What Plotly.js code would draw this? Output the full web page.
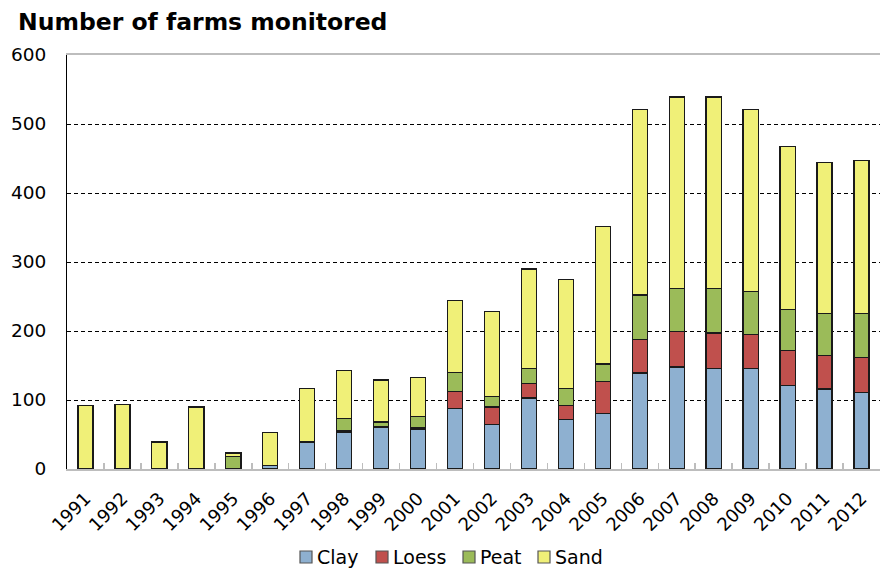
<!DOCTYPE html>
<html>
<head>
<meta charset="utf-8">
<script src="https://cdn.plot.ly/plotly-3.0.1.min.js"></script>
<style>html,body{margin:0;padding:0;background:#fff}#chart{width:885px;height:577px}</style>
</head>
<body>
<div id="chart"></div>
<script>
const years = ["1991","1992","1993","1994","1995","1996","1997","1998","1999","2000","2001","2002","2003","2004","2005","2006","2007","2008","2009","2010","2011","2012"];
const clay  = [1, 0, 0, 0, 1, 5, 39, 53, 60, 58, 88, 65, 103, 72, 80, 139, 148, 146, 146, 121, 116, 111];
const loess = [0, 0, 0, 0, 0, 0, 0, 2, 1, 2, 24, 25, 21, 20, 47, 49, 51, 51, 49, 51, 49, 51];
const peat  = [0, 0, 0, 0, 17, 0, 0, 18, 7, 16, 28, 15, 22, 25, 25, 64, 63, 65, 62, 59, 60, 63];
const sand  = [91, 93, 39, 90, 5, 48, 78, 70, 61, 57, 104, 123, 144, 158, 199, 269, 277, 277, 264, 236, 219, 222];

const names = ["Clay", "Loess", "Peat", "Sand"];
const colors = ["#8EB0D0", "#C0504D", "#9BBB59", "#F0F078"];
const series = [clay, loess, peat, sand];

const W = 885, H = 577;
const M = {l: 67, r: 5, t: 55, b: 108};
const pw = W - M.l - M.r, ph = H - M.t - M.b;
const px2x = px => (px - M.l) / pw;
const py2y = py => (H - M.b - py) / ph;

const traces = series.map((vals, i) => ({
  type: "bar",
  name: names[i],
  x: years,
  y: vals,
  marker: {color: colors[i], line: {color: "#1a1a1a", width: 1.3}},
  showlegend: false
}));

// custom legend (symbol squares + labels)
const legSquareX = [300, 376, 463, 538];
const legY = 557;
const shapes = names.map((n, i) => ({
  type: "rect", xref: "paper", yref: "paper",
  x0: px2x(legSquareX[i]), x1: px2x(legSquareX[i] + 12),
  y0: py2y(legY + 6), y1: py2y(legY - 6),
  fillcolor: colors[i], line: {color: "#555", width: 1.2}
}));
const annotations = names.map((n, i) => ({
  text: n, xref: "paper", yref: "paper",
  x: px2x(legSquareX[i] + 15), xanchor: "left",
  y: py2y(legY), yanchor: "middle",
  showarrow: false,
  font: {size: 19, color: "#000"}
}));

const layout = {
  width: W, height: H,
  barmode: "stack",
  bargap: 0.59,
  paper_bgcolor: "#fff",
  plot_bgcolor: "#fff",
  font: {family: "DejaVu Sans, Verdana, sans-serif", color: "#000"},
  margin: M,
  title: {
    text: "<b>Number of farms monitored</b>",
    font: {family: "DejaVu Sans, Verdana, sans-serif", size: 23.5, color: "#000"},
    xref: "container", x: 18/W, xanchor: "left",
    yref: "container", y: 1 - 22/H, yanchor: "middle"
  },
  xaxis: {
    type: "category",
    tickangle: -45,
    tickfont: {size: 18},
    ticklabelstandoff: 10,
    showline: true, linecolor: "#bdbdbd", linewidth: 2,
    mirror: true,
    ticks: "inside", ticklen: 6, tickcolor: "#bdbdbd", tickwidth: 1.5,
    tickson: "boundaries",
    showgrid: false,
    zeroline: false
  },
  yaxis: {
    range: [0, 600],
    dtick: 100,
    tickfont: {size: 18.5},
    showline: true, linecolor: "#000", linewidth: 1,
    ticks: "", ticklabelstandoff: 16,
    showgrid: true, gridcolor: "#000", gridwidth: 1, griddash: "4px,3px",
    zeroline: false
  },
  showlegend: false,
  shapes: shapes,
  annotations: annotations
};

Plotly.newPlot("chart", traces, layout, {displayModeBar: false, staticPlot: true});
</script>
</body>
</html>
